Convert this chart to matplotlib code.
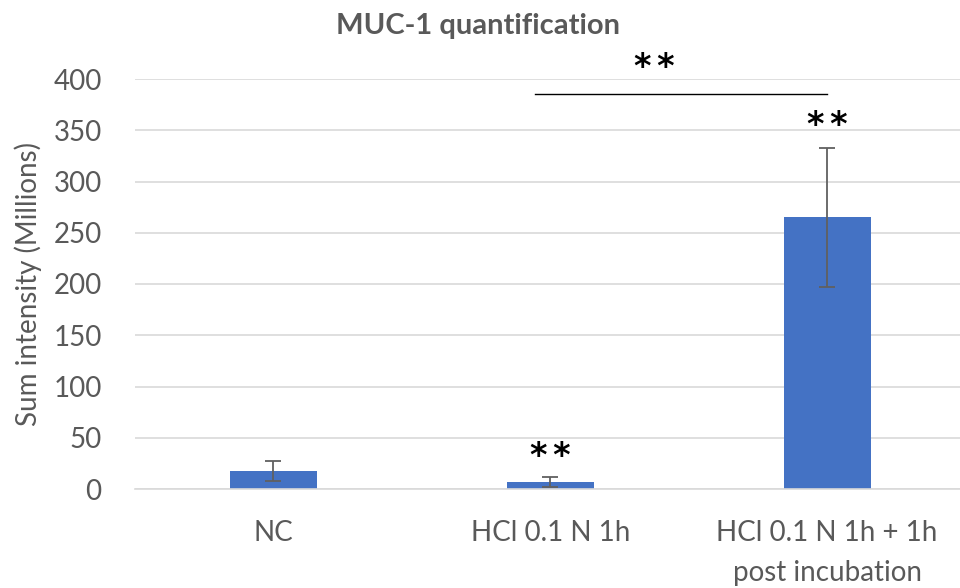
import matplotlib
matplotlib.use("Agg")
import matplotlib.pyplot as plt

categories = ["NC", "HCl 0.1 N 1h", "HCl 0.1 N 1h + 1h\npost incubation"]
values = [17.5, 7.0, 265.0]
errors = [10.0, 5.0, 68.0]
yticks = [0, 50, 100, 150, 200, 250, 300, 350, 400]
title = "MUC-1 quantification"
ylabel = "Sum intensity (Millions)"
sig_bar_marks = ["", "**", "**"]
sig_bar_y = [None, 32, 355]
bracket = (0.944, 2.0, 385.4, 411, "**")

plt.rcParams['font.family'] = ['Lato', 'DejaVu Sans']
gray = "#595959"

fig = plt.figure(figsize=(9.6, 5.88), dpi=100)
ax = fig.add_axes([135/960, 1-489/588, 825/960, 410/588])

x = list(range(len(categories)))
ax.bar(x, values, width=0.314, color="#4472C4", zorder=2)
ax.errorbar(x, values, yerr=errors, fmt="none", ecolor="#606060",
            elinewidth=1.3, capsize=6, capthick=1.3, zorder=3)

ax.set_xlim(-0.5, 2.48)
ax.set_ylim(0, 400)
ax.set_yticks(yticks)
ax.set_xticks(x)
ax.set_xticklabels(categories, fontsize=20, color=gray, linespacing=1.68)
ax.tick_params(axis='y', labelsize=20, labelcolor=gray, length=0, pad=24)
ax.tick_params(axis='x', length=0, pad=22)
ax.grid(axis='y', color="#D9D9D9", linewidth=1.2, zorder=0)
ax.set_axisbelow(True)
for s in ['top', 'right', 'left']:
    ax.spines[s].set_visible(False)
ax.spines['bottom'].set_color("#D9D9D9")
ax.spines['bottom'].set_linewidth(1.2)

ax.set_ylabel(ylabel, fontsize=20, color=gray, labelpad=8)
fig.text(478/960, 1-26/588, title, fontsize=21, fontweight='bold', color=gray,
         ha='center', va='center')


def stars(m):
    return "\u2006".join(m)


for xi, m, yy in zip(x, sig_bar_marks, sig_bar_y):
    if m:
        ax.text(xi, yy, stars(m), fontsize=24, fontweight='bold', color='black',
                ha='center', va='center', family='DejaVu Sans', clip_on=False)

x0, x1, yl, yt, mk = bracket
ax.plot([x0, x1], [yl, yl], color='black', linewidth=1, clip_on=False)
ax.text(1.377, yt, stars(mk), fontsize=24, fontweight='bold', color='black',
        ha='center', va='center', family='DejaVu Sans', clip_on=False)

fig.savefig("out.png", dpi=100)
